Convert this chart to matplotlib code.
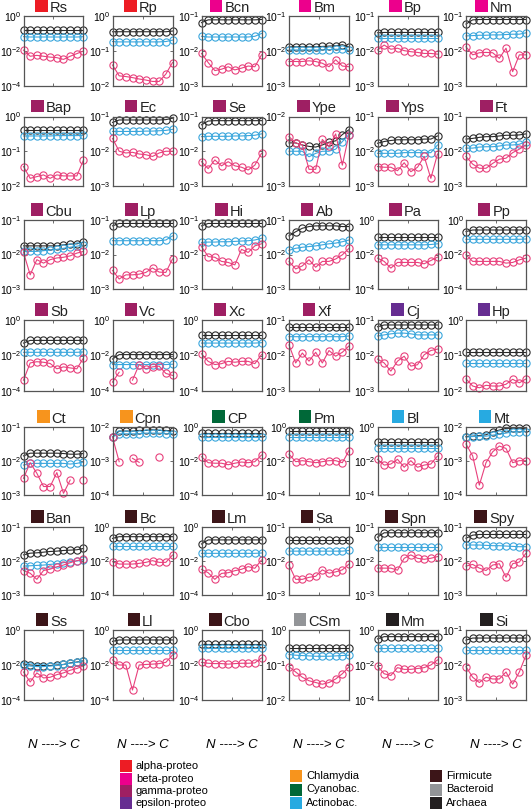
import matplotlib
matplotlib.use('Agg')
import matplotlib.pyplot as plt
import numpy as np
from matplotlib.patches import Rectangle
from matplotlib.ticker import NullLocator
from matplotlib.offsetbox import AnchoredOffsetbox, HPacker, DrawingArea, TextArea

plt.rcParams['font.family'] = ['Liberation Sans', 'DejaVu Sans']
plt.rcParams['mathtext.default'] = 'regular'

nan = np.nan

# panel names (row by row) and their group
names = ['Rs', 'Rp', 'Bcn', 'Bm', 'Bp', 'Nm',
         'Bap', 'Ec', 'Se', 'Ype', 'Yps', 'Ft',
         'Cbu', 'Lp', 'Hi', 'Ab', 'Pa', 'Pp',
         'Sb', 'Vc', 'Xc', 'Xf', 'Cj', 'Hp',
         'Ct', 'Cpn', 'CP', 'Pm', 'Bl', 'Mt',
         'Ban', 'Bc', 'Lm', 'Sa', 'Spn', 'Spy',
         'Ss', 'Ll', 'Cbo', 'CSm', 'Mm', 'Si']
groups = ['alpha', 'alpha', 'beta', 'beta', 'beta', 'beta',
          'gamma', 'gamma', 'gamma', 'gamma', 'gamma', 'gamma',
          'gamma', 'gamma', 'gamma', 'gamma', 'gamma', 'gamma',
          'gamma', 'gamma', 'gamma', 'gamma', 'epsilon', 'epsilon',
          'chlam', 'chlam', 'cyano', 'cyano', 'actino', 'actino',
          'firm', 'firm', 'firm', 'firm', 'firm', 'firm',
          'firm', 'firm', 'firm', 'bact', 'arch', 'arch']

# y range of each panel (log10 of the axis limits)
y_top = [0, 0, -1, -1, -1, -1,
         0, -1, -1, -2, -1, -1,
         -1, -1, -1, -1, 0, 0,
         0, 0, 0, -1, -1, 0,
         -1, -2, 0, 0, 0, -2,
         -1, 0, 0, -1, -1, -1,
         0, 0, 0, 0, 0, -1]
y_bottom = [-4, -2, -3, -3, -3, -3,
            -2, -3, -3, -3, -3, -3,
            -3, -3, -3, -3, -4, -4,
            -4, -4, -4, -3, -3, -2,
            -3, -4, -4, -4, -4, -4,
            -3, -4, -4, -3, -3, -3,
            -4, -4, -4, -2, -4, -3]

# log10 of the three series, N -> C (10 positions)
black = [
    [-0.80, -0.80, -0.80, -0.80, -0.80, -0.80, -0.80, -0.80, -0.80, -0.80],
    [-0.45, -0.45, -0.45, -0.45, -0.45, -0.45, -0.45, -0.45, -0.45, -0.43],
    [-1.19, -1.11, -1.11, -1.11, -1.11, -1.11, -1.11, -1.11, -1.11, -1.10],
    [-1.88, -1.88, -1.88, -1.88, -1.88, -1.87, -1.86, -1.85, -1.82, -1.88],
    [-1.48, -1.47, -1.47, -1.47, -1.47, -1.47, -1.47, -1.47, -1.47, -1.47],
    [-1.23, -1.11, -1.10, -1.10, -1.10, -1.10, -1.10, -1.10, -1.10, -1.10],
    [-0.38, -0.38, -0.38, -0.38, -0.38, -0.38, -0.38, -0.38, -0.38, -0.38],
    [-1.17, -1.10, -1.10, -1.10, -1.10, -1.10, -1.10, -1.10, -1.09, -1.05],
    [-1.24, -1.13, -1.12, -1.12, -1.12, -1.12, -1.12, -1.12, -1.12, -1.12],
    [-2.38, -2.38, -2.41, -2.43, -2.44, -2.41, -2.37, -2.35, -2.26, -2.19],
    [-1.77, -1.72, -1.69, -1.67, -1.67, -1.67, -1.67, -1.65, -1.65, -1.56],
    [-1.65, -1.63, -1.60, -1.58, -1.58, -1.56, -1.54, -1.54, -1.53, -1.50],
    [-1.75, -1.75, -1.75, -1.75, -1.75, -1.75, -1.72, -1.70, -1.69, -1.65],
    [-1.17, -1.10, -1.10, -1.10, -1.10, -1.10, -1.10, -1.10, -1.10, -1.10],
    [-1.17, -1.10, -1.10, -1.10, -1.10, -1.10, -1.10, -1.10, -1.10, -1.10],
    [-1.46, -1.34, -1.24, -1.19, -1.17, -1.17, -1.17, -1.17, -1.19, -1.19],
    [-1.00, -1.00, -1.00, -1.00, -1.00, -1.00, -1.00, -1.00, -1.00, -1.00],
    [-0.67, -0.58, -0.58, -0.58, -0.58, -0.58, -0.58, -0.58, -0.58, -0.58],
    [-1.30, -1.15, -1.15, -1.15, -1.15, -1.15, -1.15, -1.15, -1.15, -1.15],
    [-2.20, -1.95, -1.95, -1.95, -1.95, -1.95, -1.95, -1.95, -1.95, -1.95],
    [-0.84, -0.84, -0.84, -0.84, -0.84, -0.84, -0.84, -0.84, -0.84, -0.84],
    [-1.20, -1.20, -1.20, -1.20, -1.20, -1.20, -1.20, -1.20, -1.20, -1.20],
    [-1.19, -1.14, -1.14, -1.14, -1.14, -1.14, -1.14, -1.14, -1.14, -1.14],
    [-0.91, -0.91, -0.91, -0.91, -0.91, -0.91, -0.91, -0.91, -0.91, -0.91],
    [-1.85, -1.77, -1.77, -1.77, -1.77, -1.77, -1.78, -1.80, -1.80, -1.78],
    [-2.29, -2.12, -2.12, -2.12, -2.10, -2.10, -2.08, -2.10, -2.10, -2.12],
    [-0.37, -0.37, -0.37, -0.37, -0.37, -0.37, -0.37, -0.37, -0.37, -0.37],
    [-0.25, -0.25, -0.25, -0.25, -0.25, -0.25, -0.25, -0.25, -0.25, -0.25],
    [-0.86, -0.86, -0.86, -0.86, -0.86, -0.86, -0.86, -0.86, -0.86, -0.86],
    [-2.28, -2.27, -2.25, -2.23, -2.14, -2.09, -2.04, -2.04, -2.04, -2.04],
    [-1.82, -1.77, -1.76, -1.74, -1.72, -1.71, -1.69, -1.68, -1.67, -1.63],
    [-0.67, -0.57, -0.57, -0.57, -0.57, -0.57, -0.57, -0.57, -0.57, -0.57],
    [-1.00, -0.76, -0.76, -0.76, -0.76, -0.76, -0.76, -0.76, -0.76, -0.76],
    [-1.37, -1.37, -1.37, -1.37, -1.37, -1.37, -1.37, -1.37, -1.37, -1.37],
    [-1.30, -1.17, -1.17, -1.17, -1.17, -1.17, -1.17, -1.17, -1.17, -1.17],
    [-1.33, -1.24, -1.22, -1.22, -1.22, -1.22, -1.22, -1.22, -1.22, -1.22],
    [-1.94, -2.00, -2.03, -2.03, -2.03, -2.00, -1.97, -1.88, -1.83, -1.76],
    [-0.65, -0.57, -0.57, -0.57, -0.57, -0.57, -0.57, -0.57, -0.57, -0.57],
    [-0.80, -0.80, -0.80, -0.80, -0.80, -0.80, -0.80, -0.80, -0.80, -0.80],
    [-0.52, -0.52, -0.52, -0.52, -0.52, -0.52, -0.52, -0.52, -0.52, -0.52],
    [-0.51, -0.38, -0.38, -0.38, -0.38, -0.38, -0.38, -0.38, -0.38, -0.38],
    [-1.29, -1.23, -1.23, -1.23, -1.23, -1.23, -1.23, -1.23, -1.23, -1.23],
]
cyan = [
    [-1.18, -1.20, -1.20, -1.20, -1.20, -1.20, -1.20, -1.20, -1.20, -1.18],
    [-0.73, -0.74, -0.74, -0.74, -0.74, -0.74, -0.74, -0.74, -0.73, -0.69],
    [-1.58, -1.60, -1.60, -1.60, -1.60, -1.60, -1.60, -1.60, -1.58, -1.50],
    [-1.97, -1.97, -1.97, -1.97, -1.97, -1.97, -1.96, -1.95, -1.95, -1.98],
    [-1.64, -1.64, -1.64, -1.64, -1.64, -1.64, -1.64, -1.64, -1.64, -1.64],
    [-1.57, -1.56, -1.55, -1.55, -1.54, -1.54, -1.53, -1.52, -1.52, -1.48],
    [-0.56, -0.56, -0.56, -0.56, -0.56, -0.55, -0.55, -0.55, -0.55, -0.54],
    [-1.43, -1.43, -1.43, -1.43, -1.43, -1.42, -1.42, -1.41, -1.40, -1.37],
    [-1.58, -1.57, -1.57, -1.57, -1.57, -1.56, -1.56, -1.55, -1.54, -1.50],
    [-2.50, -2.50, -2.50, -2.58, -2.53, -2.50, -2.50, -2.47, -2.36, -2.26],
    [-2.06, -2.06, -2.06, -2.06, -2.04, -2.04, -2.04, -2.04, -2.04, -1.82],
    [-1.91, -1.91, -1.88, -1.87, -1.87, -1.85, -1.82, -1.82, -1.80, -1.72],
    [-1.91, -1.91, -1.91, -1.89, -1.87, -1.85, -1.82, -1.79, -1.76, -1.72],
    [-1.60, -1.60, -1.60, -1.60, -1.60, -1.60, -1.60, -1.60, -1.58, -1.46],
    [-1.65, -1.64, -1.64, -1.63, -1.63, -1.62, -1.61, -1.60, -1.58, -1.53],
    [-1.88, -1.82, -1.79, -1.77, -1.75, -1.72, -1.69, -1.67, -1.63, -1.58],
    [-1.44, -1.44, -1.44, -1.44, -1.44, -1.44, -1.44, -1.44, -1.42, -1.38],
    [-1.12, -1.12, -1.12, -1.12, -1.12, -1.12, -1.12, -1.12, -1.12, -1.10],
    [-1.82, -1.82, -1.82, -1.82, -1.82, -1.82, -1.82, -1.82, -1.82, -1.80],
    [-2.51, -2.51, -2.51, -2.51, -2.51, -2.51, -2.51, -2.51, -2.51, -2.49],
    [-1.30, -1.30, -1.30, -1.30, -1.30, -1.30, -1.30, -1.30, -1.30, -1.28],
    [-1.47, -1.47, -1.47, -1.47, -1.47, -1.47, -1.47, -1.47, -1.47, -1.45],
    [-1.45, -1.42, -1.39, -1.37, -1.37, -1.39, -1.42, -1.42, -1.42, -1.42],
    [-1.21, -1.21, -1.21, -1.21, -1.21, -1.21, -1.21, -1.21, -1.21, -1.21],
    [-2.12, -2.07, -2.07, -2.07, -2.07, -2.07, -2.07, -2.09, -2.07, -2.03],
    [-2.29, -2.20, -2.20, -2.20, -2.20, -2.18, -2.18, -2.18, -2.20, -2.20],
    [-0.61, -0.61, -0.61, -0.61, -0.61, -0.61, -0.61, -0.61, -0.61, -0.61],
    [-0.58, -0.58, -0.58, -0.58, -0.58, -0.58, -0.58, -0.58, -0.58, -0.58],
    [-1.25, -1.25, -1.25, -1.25, -1.25, -1.25, -1.25, -1.25, -1.25, -1.25],
    [-2.30, -2.28, -2.27, -2.27, -2.24, -2.21, -2.18, -2.14, -2.14, -2.14],
    [-2.15, -2.14, -2.13, -2.12, -2.10, -2.08, -2.05, -2.02, -2.00, -1.97],
    [-1.12, -1.12, -1.12, -1.12, -1.12, -1.12, -1.12, -1.12, -1.12, -1.12],
    [-1.55, -1.55, -1.55, -1.55, -1.55, -1.55, -1.55, -1.55, -1.55, -1.53],
    [-1.71, -1.71, -1.71, -1.71, -1.71, -1.71, -1.71, -1.71, -1.71, -1.69],
    [-1.58, -1.58, -1.58, -1.58, -1.58, -1.58, -1.58, -1.58, -1.58, -1.58],
    [-1.53, -1.53, -1.53, -1.54, -1.55, -1.55, -1.56, -1.57, -1.58, -1.58],
    [-2.00, -2.06, -2.09, -2.09, -2.06, -2.03, -1.97, -1.90, -1.85, -1.75],
    [-1.14, -1.14, -1.14, -1.14, -1.14, -1.14, -1.14, -1.14, -1.14, -1.14],
    [-1.05, -1.05, -1.05, -1.05, -1.05, -1.05, -1.05, -1.05, -1.05, -1.05],
    [-0.70, -0.72, -0.73, -0.74, -0.75, -0.75, -0.75, -0.74, -0.73, -0.72],
    [-1.05, -1.05, -1.05, -1.05, -1.05, -1.05, -1.05, -1.05, -1.05, -1.05],
    [-1.57, -1.57, -1.57, -1.57, -1.57, -1.57, -1.57, -1.57, -1.57, -1.57],
]
pink = [
    [-1.95, -2.30, -2.25, -2.30, -2.35, -2.38, -2.48, -2.30, -2.15, -2.00],
    [-1.40, -1.71, -1.73, -1.76, -1.80, -1.83, -1.87, -1.87, -1.66, -1.33],
    [-2.07, -2.33, -2.56, -2.52, -2.45, -2.54, -2.49, -2.43, -2.45, -2.11],
    [-2.30, -2.30, -2.30, -2.28, -2.30, -2.35, -2.45, -2.25, -2.43, -2.45],
    [-1.97, -1.83, -1.95, -1.92, -1.99, -2.02, -2.04, -2.07, -2.07, -2.09],
    [-1.88, -2.11, -2.05, -2.04, -2.05, -2.21, -1.92, -2.59, -2.11, -2.11],
    [-1.44, -1.78, -1.73, -1.68, -1.78, -1.68, -1.71, -1.71, -1.71, -1.25],
    [-1.63, -2.00, -2.05, -2.03, -2.08, -2.10, -2.15, -2.05, -2.00, -2.00],
    [-2.30, -2.50, -2.25, -2.42, -2.30, -2.42, -2.46, -2.54, -2.40, -2.06],
    [-2.29, -2.38, -2.41, -2.76, -2.76, -2.33, -2.43, -2.25, -2.70, -2.26],
    [-2.44, -2.46, -2.46, -2.56, -2.33, -2.59, -2.46, -2.15, -2.78, -2.08],
    [-2.15, -2.37, -2.49, -2.49, -2.35, -2.23, -2.20, -2.04, -1.94, -1.82],
    [-1.94, -2.59, -2.15, -2.25, -2.15, -2.10, -2.08, -2.04, -1.96, -1.91],
    [-2.46, -2.71, -2.59, -2.59, -2.57, -2.52, -2.39, -2.51, -2.52, -2.13],
    [-1.77, -2.06, -2.08, -2.20, -2.23, -2.30, -1.85, -1.94, -1.75, -1.69],
    [-2.20, -2.42, -2.33, -2.15, -2.37, -2.20, -2.20, -2.13, -2.01, -1.82],
    [-2.21, -2.40, -2.79, -2.46, -2.46, -2.46, -2.46, -2.54, -2.35, -2.15],
    [-2.02, -2.40, -2.40, -2.40, -2.40, -2.40, -2.50, -2.46, -2.31, -2.21],
    [-3.39, -2.42, -2.35, -2.38, -2.45, -2.75, -2.64, -2.70, -2.75, -2.14],
    [-3.50, -2.94, nan, -3.39, -2.51, -2.75, -2.64, -2.60, -3.01, -3.12],
    [-1.90, -2.33, -2.51, -2.46, -2.33, -2.38, -2.33, -2.33, -2.46, -1.95],
    [-1.70, -2.21, -1.93, -2.16, -1.91, -2.21, -1.86, -2.02, -1.91, -1.73],
    [-2.10, -2.21, -2.44, -2.16, -2.02, -2.30, -2.26, -1.98, -1.86, -1.82],
    [-1.66, -1.86, -1.91, -1.84, -1.86, -1.86, -1.81, -1.67, -1.77, -1.66],
    [-2.51, -2.05, -2.36, -2.75, -2.75, -2.34, -2.95, -2.56, nan, -2.56],
    [-2.30, -3.02, nan, -2.92, -3.04, nan, nan, -2.87, nan, nan],
    [-1.75, -2.10, -2.13, -2.13, -2.22, -2.13, -2.06, -2.10, -2.04, -1.65],
    [-1.60, -2.04, -1.98, -2.04, -2.10, -2.04, -1.98, -1.98, -2.10, -1.39],
    [-1.90, -2.24, -2.18, -1.90, -2.37, -1.98, -2.37, -2.24, -2.18, -1.71],
    [-2.50, -2.85, -3.71, -3.05, -2.73, -2.56, -2.63, -3.05, -2.99, -2.99],
    [-2.28, -2.36, -2.54, -2.28, -2.24, -2.17, -2.12, -2.05, -1.99, -1.95],
    [-2.04, -2.18, -2.18, -2.18, -2.14, -2.08, -1.98, -2.08, -2.08, -1.65],
    [-2.49, -2.69, -3.08, -2.73, -2.69, -2.57, -2.49, -2.33, -2.43, -1.94],
    [-2.12, -2.54, -2.54, -2.48, -2.45, -2.26, -2.36, -2.32, -2.26, -2.09],
    [-2.21, -2.21, -2.21, -2.27, -1.92, -1.82, -1.92, -1.95, -1.92, -1.87],
    [-2.15, -2.10, -2.21, -2.28, -2.12, -2.08, -2.48, -2.08, -2.03, -1.77],
    [-2.40, -2.97, -2.45, -2.74, -2.70, -2.55, -2.45, -2.30, -2.20, -2.05],
    [-1.71, -2.00, -2.00, -3.43, -2.00, -1.97, -1.95, -1.92, -1.85, -1.43],
    [-1.85, -1.90, -1.92, -1.92, -1.95, -1.92, -1.90, -1.90, -1.88, -1.60],
    [-1.05, -1.20, -1.35, -1.45, -1.50, -1.55, -1.50, -1.40, -1.25, -1.05],
    [-2.06, -2.50, -2.60, -2.15, -2.25, -2.25, -2.20, -2.15, -2.00, -1.71],
    [-2.05, -2.35, -2.50, -2.35, -2.40, -2.40, -2.20, -2.55, -2.20, -1.72],
]

legend_keys = ['alpha', 'beta', 'gamma', 'epsilon', 'chlam', 'cyano', 'actino', 'firm', 'bact', 'arch']
legend_labels = ['alpha-proteo', 'beta-proteo', 'gamma-proteo', 'epsilon-proteo',
                 'Chlamydia', 'Cyanobac.', 'Actinobac.', 'Firmicute', 'Bacteroid', 'Archaea']

group_colors = {'alpha': '#ed1c24', 'beta': '#ec008c', 'gamma': '#9e1f63',
                'epsilon': '#662d91', 'chlam': '#f7941d', 'cyano': '#006838',
                'actino': '#27aae1', 'firm': '#3c1518', 'bact': '#939598',
                'arch': '#231f20'}
line_colors = ['#2b2b2b', '#3aa6dc', '#e8407c']

W, H = 532, 810
fig = plt.figure(figsize=(W / 100, H / 100), dpi=100)

col_left = [23.5, 112.5, 201.5, 289, 377.5, 466]
ax_w = 60
row_top = [16, 116.5, 220, 320, 427, 527, 630]
row_h = [70, 69.5, 69, 71, 68, 68, 70]

x = np.arange(1, 11)
for i, name in enumerate(names):
    r, c = divmod(i, 6)
    ax = fig.add_axes([col_left[c] / W, 1 - (row_top[r] + row_h[r]) / H,
                       ax_w / W, row_h[r] / H])
    ax.set_yscale('log')
    for vals, col in zip([black[i], cyan[i], pink[i]], line_colors):
        ax.plot(x, 10 ** np.array(vals), '-o', color=col, mfc='none',
                ms=5.2, lw=0.8, mew=0.8, clip_on=False)
    ax.set_xlim(1, 10)
    ax.set_ylim(10.0 ** y_bottom[i], 10.0 ** y_top[i])
    ticks = [y_top[i], y_bottom[i]]
    if (y_top[i] - y_bottom[i]) % 2 == 0:
        ticks.insert(1, (y_top[i] + y_bottom[i]) // 2)
    ax.set_yticks([10.0 ** t for t in ticks])
    ax.set_yticklabels([r'$10^{%d}$' % t for t in ticks])
    ax.yaxis.set_minor_locator(NullLocator())
    ax.set_xticks([5.5])
    ax.set_xticklabels([])
    ax.tick_params(direction='in', length=2.5, width=0.6, labelsize=7.5, pad=1.5,
                   right=True, top=True, colors='#555555', labelcolor='black')
    for sp in ax.spines.values():
        sp.set_color('#555555')
        sp.set_linewidth(0.9)

    # title: colored square + name
    da = DrawingArea(9, 9, 0, 0)
    da.add_artist(Rectangle((0, 0), 9, 9, fc=group_colors[groups[i]], ec='none'))
    ta = TextArea(name, textprops=dict(fontsize=10.5, color='#222222'))
    box = HPacker(children=[da, ta], align='baseline', pad=0, sep=1.5)
    ab = AnchoredOffsetbox(loc='lower center', child=box, pad=0, borderpad=0,
                           frameon=False, bbox_to_anchor=(0.47, 1.02),
                           bbox_transform=ax.transAxes)
    ax.add_artist(ab)

for c in range(6):
    fig.text((col_left[c] + ax_w / 2) / W, 1 - 745 / H, 'N ----> C',
             style='italic', fontsize=9.5, ha='center', va='center')

# legend
leg_x = [120, 120, 120, 120, 290, 290, 290, 430, 430, 430]
leg_y = [766, 778.5, 791, 803, 776, 789.5, 803, 776, 789.5, 803]
sq = 12
for key, lab, lx, ly in zip(legend_keys, legend_labels, leg_x, leg_y):
    fig.add_artist(Rectangle((lx / W, 1 - (ly + sq / 2) / H), sq / W, sq / H,
                             transform=fig.transFigure, fc=group_colors[key], ec='none'))
    fig.text((lx + sq + 4) / W, 1 - ly / H, lab, fontsize=8, ha='left', va='center')

fig.savefig('out.png', dpi=100)
